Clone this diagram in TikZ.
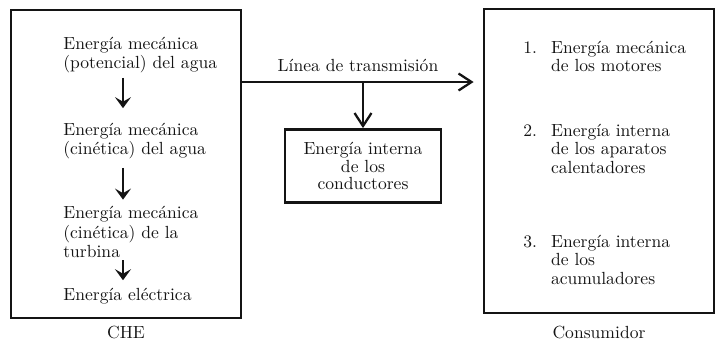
\documentclass[tikz,border=0pt]{standalone}
\usepackage{xcolor}
\usetikzlibrary{arrows.meta,positioning,calc}
\definecolor{inkblack}{HTML}{141414}
\tikzset{
  blockframe/.style={rectangle, draw=inkblack, fill=none, line width=1.6pt, inner sep=0pt},
  stage/.style={anchor=west, inner sep=0pt, align=left, text=inkblack, font=\fontsize{10}{11}\selectfont},
  useitem/.style={anchor=west, inner sep=0pt, text=inkblack, font=\fontsize{10}{10.5}\selectfont},
  flow/.style={-{Stealth[length=2.2mm,width=3.2mm,inset=0.9mm]}, draw=inkblack, line width=1.3pt},
  wire/.style={-{Straight Barb[length=2.6mm,width=3.4mm,line width=1.3pt]}, draw=inkblack, line width=1.3pt},
  boxlabel/.style={inner sep=0pt, text=inkblack, font=\fontsize{10}{11}\selectfont}
}

\begin{document}
\begin{tikzpicture}[x=0.02cm, y=-0.02cm]
  \useasboundingbox (0,0) rectangle (717,339);

  % central hidroelectrica
  \node[blockframe, minimum width=4.6cm, minimum height=6.16cm] (che) at (126,164) {};
  \node[boxlabel, below=0.12cm of che] (chelbl) {CHE};
  \node[stage] (e1) at (63,55) {Energía mecánica\\(potencial) del agua};
  \node[stage] (e2) at (63,141) {Energía mecánica\\(cinética) del agua};
  \node[stage] (e3) at (63,232) {Energía mecánica\\(cinética) de la\\turbina};
  \node[stage] (e4) at (63,296) {Energía eléctrica};
  \coordinate (ax) at (123,0);
  \draw[flow, shorten <=0.09cm, shorten >=0.29cm] (e1.south -| ax) -- (e2.north -| ax);
  \draw[flow, shorten <=0.17cm, shorten >=0.13cm] (e2.south -| ax) -- (e3.north -| ax);
  \draw[flow, shorten <=0.05cm, shorten >=0.15cm] (e3.south -| ax) -- (e4.north -| ax);

  % consumidor
  \node[blockframe, minimum width=4.6cm, minimum height=6.08cm] (cons) at (599,161) {};
  \node[boxlabel, below=0.22cm of cons] (conslbl) {Consumidor};
  \node[useitem] (c1) at (523,59) {\begin{tabular}{@{}l@{\hspace{8pt}}l@{}}1. & Energía mecánica\\ & de los motores\end{tabular}};
  \node[useitem] (c2) at (523,151) {\begin{tabular}{@{}l@{\hspace{8pt}}l@{}}2. & Energía interna\\ & de los aparatos\\ & calentadores\end{tabular}};
  \node[useitem] (c3) at (523,262) {\begin{tabular}{@{}l@{\hspace{8pt}}l@{}}3. & Energía interna\\ & de los\\ & acumuladores\end{tabular}};

  % linea de transmision
  \coordinate (tap) at (363,82);
  \node[boxlabel] (tlabel) at (358,65) {Línea de transmisión};
  \draw[wire, shorten >=0.18cm] (che.east |- tap) -- (cons.west |- tap);
  \node[blockframe, minimum width=3.12cm, minimum height=1.46cm, align=center,
        text=inkblack, font=\fontsize{10}{10}\selectfont] (cond) at (363,166)
        {Energía interna\\de los\\conductores};
  \draw[wire] (tap) -- (cond.north);
\end{tikzpicture}
\end{document}
